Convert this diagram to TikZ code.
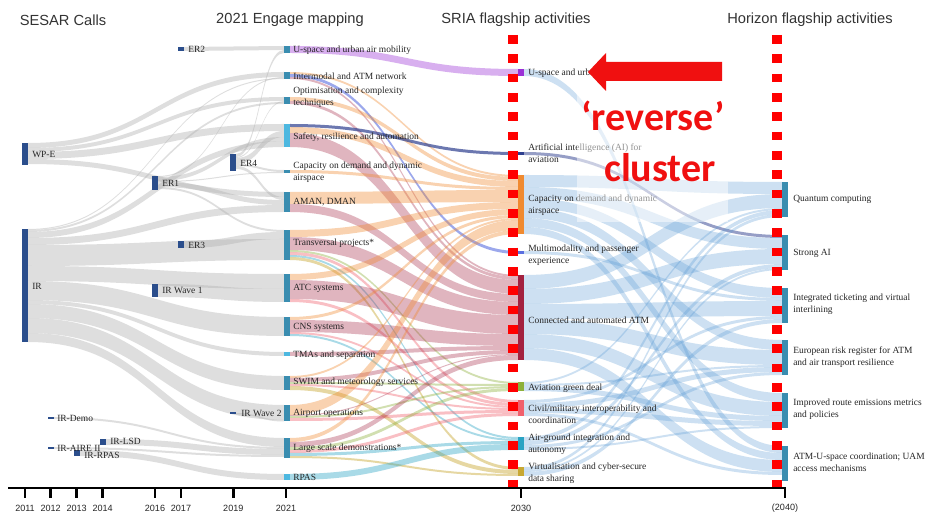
\documentclass[tikz,border=0pt]{standalone}
\usepackage{fontspec}
\setmainfont{Liberation Serif}
\newfontfamily\sansf{Liberation Sans}
\newfontfamily\calfont{Carlito}
\definecolor{callblue}{HTML}{2B4E8C}
\definecolor{tealbar}{HTML}{3A8DB0}
\definecolor{lightbar}{HTML}{4DB8E0}
\definecolor{cusp}{HTML}{9B30D6}
\definecolor{cai}{HTML}{2E3F8F}
\definecolor{ccap}{HTML}{F08A30}
\definecolor{cmul}{HTML}{5A6FE0}
\definecolor{ccon}{HTML}{A3213F}
\definecolor{cgrn}{HTML}{8DB03A}
\definecolor{cciv}{HTML}{F0606C}
\definecolor{cair}{HTML}{2AA3C3}
\definecolor{cvir}{HTML}{C8A832}
\definecolor{hzblue}{HTML}{5B9BD5}
\definecolor{arrowred}{HTML}{F01010}
\newcommand\flw[6]{%
  \fill[#6] (#1,#2) .. controls ({(#1+#3)/2},#2) and ({(#1+#3)/2},#4) .. (#3,#4)
    -- (#3,#4+#5) .. controls ({(#1+#3)/2},#4+#5) and ({(#1+#3)/2},#2+#5) .. (#1,#2+#5) -- cycle;}
\newcommand\barbox[5]{\fill[#5] (#1,#2) rectangle (#3,#4);}
\tikzset{
  fgray/.style={fill=black!30, fill opacity=0.42},
  fusp/.style={fill=cusp!70, fill opacity=0.55},
  fcap/.style={fill=ccap, fill opacity=0.38},
  fmul/.style={fill=cmul, fill opacity=0.6},
  fcon/.style={fill=ccon, fill opacity=0.33},
  fai/.style={fill=cai, fill opacity=0.7},
  fgrn/.style={fill=cgrn, fill opacity=0.4},
  fciv/.style={fill=cciv, fill opacity=0.4},
  fair/.style={fill=cair, fill opacity=0.4},
  fvir/.style={fill=cvir, fill opacity=0.45},
  fhz/.style={fill=hzblue, fill opacity=0.3},
  fhzd/.style={fill=cai, fill opacity=0.5},
  lbl/.style={font=\fontsize{7.1}{9}\selectfont, anchor=west, inner sep=0pt, align=left, text=black!85},
  ttl/.style={font=\sansf\fontsize{11}{13}\selectfont, text=black!80, inner sep=0pt},
  yr/.style={font=\sansf\fontsize{6.8}{8}\selectfont, text=black!85, inner sep=0pt},
  redtxt/.style={font=\calfont\bfseries\fontsize{30}{36}\selectfont, text=arrowred, inner sep=0pt, anchor=base},
  reddash/.style={draw=red, line width=7.5pt, dash pattern=on 6.6pt off 7.9pt},
}
\begin{document}
\begin{tikzpicture}[x=0.75pt,y=-0.75pt]
\useasboundingbox (0,0) rectangle (925,516);
\fill[white] (0,0) rectangle (925,516);

% ---------- gray flows: SESAR calls -> 2021 ----------
\flw{184}{47}{284}{46}{4}{fgray}
\flw{236}{154}{284}{50}{3}{fgray}
\flw{28}{143}{284}{72}{5}{fgray}
\flw{158}{176}{284}{77}{1}{fgray}
\flw{28}{229}{284}{78}{1}{fgray}
\flw{28}{148}{284}{97}{4}{fgray}
\flw{236}{157}{284}{101}{1}{fgray}
\flw{28}{230}{284}{102}{2}{fgray}
\flw{28}{152}{284}{124}{7}{fgray}
\flw{236}{158}{284}{131}{6}{fgray}
\flw{158}{177}{284}{137}{4}{fgray}
\flw{28}{232}{284}{141}{6}{fgray}
\flw{236}{164}{284}{170}{2}{fgray}
\flw{158}{181}{284}{172}{1}{fgray}
\flw{28}{159}{284}{192}{5}{fgray}
\flw{236}{166}{284}{197}{3}{fgray}
\flw{158}{182}{284}{200}{5}{fgray}
\flw{28}{238}{284}{205}{7}{fgray}
\flw{158}{187}{284}{230}{2}{fgray}
\flw{184}{241}{284}{232}{7}{fgray}
\flw{28}{245}{284}{239}{21}{fgray}
\flw{28}{266}{284}{274}{15}{fgray}
\flw{158}{284}{284}{289}{13}{fgray}
\flw{28}{281}{284}{317}{19}{fgray}
\flw{28}{300}{284}{352}{4}{fgray}
\flw{28}{304}{284}{376}{14}{fgray}
\flw{28}{318}{284}{405}{15}{fgray}
\flw{236}{413}{284}{420}{1.5}{fgray}
\flw{28}{333}{284}{438}{9}{fgray}
\flw{54}{417}{284}{447}{2}{fgray}
\flw{106}{439}{284}{449}{6}{fgray}
\flw{54}{447}{284}{455}{2}{fgray}
\flw{80}{450}{284}{474}{6}{fgray}

% ---------- coloured flows: 2021 -> SRIA ----------
\flw{290}{46}{518}{69}{7}{fusp}
\flw{290}{72}{518}{175}{2}{fcap}
\flw{290}{74}{518}{251}{3}{fmul}
\flw{290}{77}{518}{275}{2}{fcon}
\flw{290}{97}{518}{177}{4}{fcap}
\flw{290}{101}{518}{277}{3}{fcon}
\flw{290}{124}{518}{152}{3}{fai}
\flw{290}{127}{518}{181}{6}{fcap}
\flw{290}{133}{518}{280}{14}{fcon}
\flw{290}{170}{518}{187}{3}{fcap}
\flw{290}{192}{518}{190}{12}{fcap}
\flw{290}{204}{518}{294}{8}{fcon}
\flw{290}{230}{518}{202}{7}{fcap}
\flw{290}{237}{518}{302}{13}{fcon}
\flw{290}{250}{518}{382}{2}{fgrn}
\flw{290}{252}{518}{400}{3}{fciv}
\flw{290}{255}{518}{437}{2}{fair}
\flw{290}{257}{518}{467}{3}{fvir}
\flw{290}{274}{518}{209}{6}{fcap}
\flw{290}{280}{518}{315}{19}{fcon}
\flw{290}{299}{518}{403}{3}{fciv}
\flw{290}{317}{518}{215}{3}{fcap}
\flw{290}{320}{518}{334}{12}{fcon}
\flw{290}{332}{518}{406}{2}{fciv}
\flw{290}{334}{518}{439}{2}{fair}
\flw{290}{352}{518}{346}{4}{fcon}
\flw{290}{376}{518}{218}{2}{fcap}
\flw{290}{378}{518}{350}{4}{fcon}
\flw{290}{382}{518}{384}{2}{fgrn}
\flw{290}{384}{518}{408}{2}{fciv}
\flw{290}{386}{518}{470}{4}{fvir}
\flw{290}{405}{518}{220}{10}{fcap}
\flw{290}{415}{518}{354}{1}{fcon}
\flw{290}{416}{518}{386}{2}{fgrn}
\flw{290}{418}{518}{410}{3}{fciv}
\flw{290}{438}{518}{230}{4}{fcap}
\flw{290}{442}{518}{355}{5}{fcon}
\flw{290}{447}{518}{388}{3}{fgrn}
\flw{290}{450}{518}{413}{3}{fciv}
\flw{290}{453}{518}{441}{3}{fair}
\flw{290}{456}{518}{474}{2}{fvir}
\flw{290}{474}{518}{444}{6}{fair}

% ---------- blue flows: SRIA -> Horizon ----------
\flw{524}{69}{782}{446}{7}{fhz}
\flw{524}{152}{782}{235}{3}{fhzd}
\flw{524}{175}{782}{182}{12}{fhz}
\flw{524}{187}{782}{238}{11}{fhz}
\flw{524}{198}{782}{288}{10}{fhz}
\flw{524}{208}{782}{340}{10}{fhz}
\flw{524}{218}{782}{393}{9}{fhz}
\flw{524}{227}{782}{453}{7}{fhz}
\flw{524}{251}{782}{298}{3}{fhz}
\flw{524}{275}{782}{194}{14}{fhz}
\flw{524}{289}{782}{249}{15}{fhz}
\flw{524}{304}{782}{301}{15}{fhz}
\flw{524}{319}{782}{350}{15}{fhz}
\flw{524}{334}{782}{402}{14}{fhz}
\flw{524}{348}{782}{460}{12}{fhz}
\flw{524}{382}{782}{208}{2}{fhz}
\flw{524}{384}{782}{365}{2}{fhz}
\flw{524}{386}{782}{416}{5}{fhz}
\flw{524}{400}{782}{316}{3}{fhz}
\flw{524}{403}{782}{367}{5}{fhz}
\flw{524}{408}{782}{421}{5}{fhz}
\flw{524}{413}{782}{472}{3}{fhz}
\flw{524}{437}{782}{210}{4}{fhz}
\flw{524}{441}{782}{264}{4}{fhz}
\flw{524}{445}{782}{372}{3}{fhz}
\flw{524}{448}{782}{426}{2}{fhz}
\flw{524}{467}{782}{214}{3}{fhz}
\flw{524}{470}{782}{268}{2}{fhz}
\flw{524}{472}{782}{319}{4}{fhz}

% ---------- bars: SESAR calls ----------
\barbox{22}{143}{28}{165}{callblue}
\barbox{22}{229}{28}{342}{callblue}
\barbox{152}{176}{158}{190}{callblue}
\barbox{152}{284}{158}{297}{callblue}
\barbox{178}{47}{184}{51}{callblue}
\barbox{178}{241}{184}{248}{callblue}
\barbox{230}{154}{236}{171}{callblue}
\barbox{230}{412.5}{236}{414.5}{callblue}
\barbox{48}{417}{54}{419}{callblue}
\barbox{48}{447}{54}{449}{callblue}
\barbox{74}{450}{80}{456}{callblue}
\barbox{100}{439}{106}{445}{callblue}

% ---------- bars: 2021 ----------
\barbox{284}{46}{290}{53}{tealbar}
\barbox{284}{72}{290}{79}{tealbar}
\barbox{284}{97}{290}{104}{tealbar}
\barbox{284}{124}{290}{147}{lightbar}
\barbox{284}{170}{290}{173}{tealbar}
\barbox{284}{192}{290}{212}{tealbar}
\barbox{284}{230}{290}{260}{tealbar}
\barbox{284}{274}{290}{302}{tealbar}
\barbox{284}{317}{290}{336}{tealbar}
\barbox{284}{352}{290}{356}{lightbar}
\barbox{284}{376}{290}{390}{tealbar}
\barbox{284}{405}{290}{421}{tealbar}
\barbox{284}{438}{290}{458}{tealbar}
\barbox{284}{474}{290}{480}{lightbar}

% ---------- red dashed lines ----------
\coordinate (sriatop) at (513,35);
\coordinate (sriabot) at (513,492);
\coordinate (hztop) at (777,35);
\coordinate (hzbot) at (777,492);
\draw[reddash] (sriatop) -- (sriabot);
\draw[reddash] (hztop) -- (hzbot);

% ---------- bars: SRIA ----------
\barbox{518}{69}{524}{76}{cusp}
\barbox{518}{152}{524}{155}{cai}
\barbox{518}{175}{524}{234}{ccap}
\barbox{518}{251}{524}{254}{cmul}
\barbox{518}{275}{524}{360}{ccon}
\barbox{518}{382}{524}{391}{cgrn}
\barbox{518}{400}{524}{416}{cciv}
\barbox{518}{437}{524}{450}{cair}
\barbox{518}{467}{524}{476}{cvir}

% ---------- bars: Horizon ----------
\barbox{782}{182}{788}{217}{tealbar}
\barbox{782}{235}{788}{270}{tealbar}
\barbox{782}{288}{788}{323}{tealbar}
\barbox{782}{340}{788}{375}{tealbar}
\barbox{782}{393}{788}{428}{tealbar}
\barbox{782}{446}{788}{481}{tealbar}

% ---------- titles ----------
\node[ttl] (t1) at (63,20) {SESAR Calls};
\node[ttl] (t2) at (290,20) {2021 Engage mapping};
\node[ttl] (t3) at (516,20) {SRIA flagship activities};
\node[ttl] (t4) at (810,20) {Horizon flagship activities};

% ---------- labels: SESAR calls ----------
\node[lbl] (c1) at (32,154) {WP-E};
\node[lbl] (c2) at (32,286) {IR};
\node[lbl] (c3) at (162,183) {ER1};
\node[lbl] (c4) at (162,290) {IR Wave 1};
\node[lbl] (c5) at (188,49) {ER2};
\node[lbl] (c6) at (188,245) {ER3};
\node[lbl] (c7) at (240,163) {ER4};
\node[lbl] (c8) at (241,413) {IR Wave 2};
\node[lbl] (c9) at (57,418) {IR-Demo};
\node[lbl] (c10) at (57,448) {IR-AIRE II};
\node[lbl] (c11) at (84,455) {IR-RPAS};
\node[lbl] (c12) at (110,441) {IR-LSD};

% ---------- labels: 2021 ----------
\node[lbl] (m1) at (293,50) {U-space and urban air mobility};
\node[lbl] (m2) at (293,76) {Intermodal and ATM network};
\node[lbl] (m3) at (293,97.5) {Optimisation and complexity\\techniques};
\node[lbl] (m4) at (293,137) {Safety, resilience and automation};
\node[lbl] (m5) at (293,172) {Capacity on demand and dynamic\\airspace};
\node[lbl] (m6) at (293,202) {AMAN, DMAN};
\node[lbl] (m7) at (293,243) {Transversal projects*};
\node[lbl] (m8) at (293,288) {ATC systems};
\node[lbl] (m9) at (293,327) {CNS systems};
\node[lbl] (m10) at (293,355) {TMAs and separation};
\node[lbl] (m11) at (293,382) {SWIM and meteorology services};
\node[lbl] (m12) at (293,413) {Airport operations};
\node[lbl] (m13) at (293,448) {Large scale demonstrations*};
\node[lbl] (m14) at (293,477) {RPAS};

% ---------- labels: SRIA ----------
\node[lbl] (s1) at (528,73) {U-space and urban air mobility};
\node[lbl] (s2) at (528,153) {Artificial intelligence (AI) for\\aviation};
\node[lbl] (s3) at (528,205) {Capacity on demand and dynamic\\airspace};
\node[lbl] (s4) at (528,255) {Multimodality and passenger\\experience};
\node[lbl] (s5) at (528,320) {Connected and automated ATM};
\node[lbl] (s6) at (528,388) {Aviation green deal};
\node[lbl] (s7) at (528,414) {Civil/military interoperability and\\coordination};
\node[lbl] (s8) at (528,444) {Air-ground integration and\\autonomy};
\node[lbl] (s9) at (528,473) {Virtualisation and cyber-secure\\data sharing};

% ---------- labels: Horizon ----------
\node[lbl] (h1) at (793,199) {Quantum computing};
\node[lbl] (h2) at (793,253) {Strong AI};
\node[lbl] (h3) at (793,304) {Integrated ticketing and virtual\\interlining};
\node[lbl] (h4) at (793,357) {European risk register for ATM\\and air transport resilience};
\node[lbl] (h5) at (793,409) {Improved route emissions metrics\\and policies};
\node[lbl] (h6) at (793,462) {ATM-U-space coordination; UAM\\access mechanisms};

% ---------- time axis ----------
\coordinate (axl) at (8,488);
\coordinate (axr) at (786,488);
\draw[line width=2pt] (axl) -- (axr);
\foreach \xx/\yy in {25/2011,50.7/2012,76.7/2013,102.7/2014,155/2016,181/2017,233.3/2019,286/2021,521/2030,785/(2040)}{
  \draw[line width=2pt] (\xx,488) -- (\xx,498);
  \node[yr] at (\xx,508) {\yy};
}

% ---------- 'reverse' cluster annotation ----------
\fill[white, opacity=0.5] (577,86) rectangle (728,222);
\node[redtxt] (rv) at (653,131) {‘reverse’};
\node[redtxt] (cl) at (660,182) {cluster};
\fill[arrowred] (588,72) -- (606,53) -- (606,62) -- (722,62) -- (722,81) -- (606,81) -- (606,91) -- cycle;
\end{tikzpicture}
\end{document}
